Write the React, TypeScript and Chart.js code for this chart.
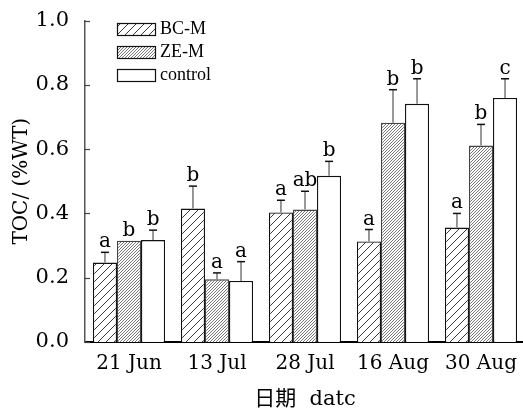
import React, { useEffect, useRef } from "react";
import { Chart, registerables } from "chart.js";
Chart.register(...registerables);

const categories = ["21 Jun", "13 Jul", "28 Jul", "16 Aug", "30 Aug"];
const seriesNames = ["BC-M", "ZE-M", "control"];
const bcmValues = [0.247, 0.415, 0.403, 0.313, 0.356];
const zemValues = [0.315, 0.195, 0.412, 0.682, 0.611];
const ctrlValues = [0.317, 0.19, 0.517, 0.741, 0.759];
const bcmErrTop = [0.279, 0.485, 0.441, 0.35, 0.4];
const zemErrTop = [0.315, 0.215, 0.469, 0.785, 0.677];
const ctrlErrTop = [0.348, 0.25, 0.562, 0.819, 0.819];
const bcmLetters = ["a", "b", "a", "a", "a"];
const zemLetters = ["b", "a", "ab", "b", "b"];
const ctrlLetters = ["b", "a", "b", "b", "c"];
const yTickValues = [0, 0.2, 0.4, 0.6, 0.8, 1.0];
const yTitle = "TOC/ (%WT)";
const xTitle = "日期  datc";

const SERIF = "'Liberation Serif', 'Noto Sans CJK SC', serif";
const WIDE = "'DejaVu Serif', 'Noto Sans CJK SC', serif";

function makeHatch(spacing: number, color: string, lw: number): CanvasPattern | string {
  const c = document.createElement("canvas");
  c.width = spacing;
  c.height = spacing;
  const g = c.getContext("2d");
  if (!g) return "#fff";
  g.fillStyle = "#fff";
  g.fillRect(0, 0, spacing, spacing);
  g.strokeStyle = color;
  g.lineWidth = lw;
  g.beginPath();
  g.moveTo(0, spacing);
  g.lineTo(spacing, 0);
  g.moveTo(-1, 1);
  g.lineTo(1, -1);
  g.moveTo(spacing - 1, spacing + 1);
  g.lineTo(spacing + 1, spacing - 1);
  g.stroke();
  const ctx2 = document.createElement("canvas").getContext("2d")!;
  return ctx2.createPattern(c, "repeat")!;
}

export default function App() {
  const ref = useRef<HTMLCanvasElement>(null);
  useEffect(() => {
    if (!ref.current) return;
    const sparse = makeHatch(8, "#222", 0.9);
    const dense = makeHatch(3, "#555", 0.8);
    const fills = [sparse, dense, "#ffffff"];
    const errTops = [bcmErrTop, zemErrTop, ctrlErrTop];
    const letters = [bcmLetters, zemLetters, ctrlLetters];

    const overlay = {
      id: "overlay",
      afterDatasetsDraw(chart: any) {
        const ctx = chart.ctx;
        const y = chart.scales.y;
        ctx.save();
        for (let d = 0; d < 3; d++) {
          const meta = chart.getDatasetMeta(d);
          meta.data.forEach((bar: any, j: number) => {
            const v = chart.data.datasets[d].data[j];
            const e = errTops[d][j];
            const x = bar.x;
            const top = y.getPixelForValue(v);
            const et = y.getPixelForValue(e);
            if (e > v) {
              ctx.strokeStyle = "#777";
              ctx.lineWidth = 1.5;
              ctx.beginPath();
              ctx.moveTo(x, top);
              ctx.lineTo(x, et);
              ctx.stroke();
              ctx.strokeStyle = "#111";
              ctx.beginPath();
              ctx.moveTo(x - 4, et);
              ctx.lineTo(x + 4, et);
              ctx.stroke();
            }
            ctx.fillStyle = "#000";
            ctx.font = "20px " + WIDE;
            ctx.textAlign = "center";
            ctx.textBaseline = "alphabetic";
            ctx.fillText(letters[d][j], x, Math.min(et, top) - 5);
          });
        }
        ctx.restore();
      },
      afterDraw(chart: any) {
        const ctx = chart.ctx;
        const y = chart.scales.y;
        const left = chart.chartArea.left;
        ctx.save();
        ctx.strokeStyle = "#444";
        ctx.lineWidth = 1.2;
        yTickValues.forEach((t) => {
          const py = Math.round(y.getPixelForValue(t)) + 0.5;
          ctx.beginPath();
          ctx.moveTo(left, py);
          ctx.lineTo(left + 5, py);
          ctx.stroke();
        });
        chart.data.datasets.forEach((ds: any, i: number) => {
          const by = 23 + i * 23;
          ctx.fillStyle = fills[i];
          ctx.fillRect(117, by, 38, 12);
          ctx.strokeStyle = "#111";
          ctx.lineWidth = 1.2;
          ctx.strokeRect(117.5, by + 0.5, 38, 12);
          ctx.fillStyle = "#000";
          ctx.font = "18px " + SERIF;
          ctx.textAlign = "left";
          ctx.textBaseline = "middle";
          ctx.fillText(ds.label, 160, by + 6);
        });
        ctx.restore();
      },
    };

    const chart = new Chart(ref.current, {
      type: "bar",
      data: {
        labels: categories,
        datasets: [
          { label: seriesNames[0], data: bcmValues, backgroundColor: sparse as any, borderColor: "#111", borderWidth: 1.3 },
          { label: seriesNames[1], data: zemValues, backgroundColor: dense as any, borderColor: "#444", borderWidth: 1.3 },
          { label: seriesNames[2], data: ctrlValues, backgroundColor: "#ffffff", borderColor: "#111", borderWidth: 1.3 },
        ],
      },
      options: {
        responsive: false,
        animation: false,
        layout: { padding: { left: 0, right: 5, top: 20, bottom: 0 } },
        datasets: { bar: { categoryPercentage: 0.82, barPercentage: 1 } },
        plugins: { legend: { display: false }, tooltip: { enabled: false } },
        scales: {
          x: {
            grid: { display: false },
            border: { display: true, color: "#000", width: 2 },
            ticks: { color: "#000", font: { family: WIDE, size: 20 }, padding: 2, maxRotation: 0 },
            title: { display: true, text: xTitle, color: "#000", font: { family: WIDE, size: 21 }, padding: { top: 2, bottom: 0 } },
            afterFit: (s: any) => { s.height = 70; },
          },
          y: {
            min: 0,
            max: 1,
            grid: { display: false },
            border: { display: true, color: "#555", width: 1.5 },
            ticks: {
              stepSize: 0.2,
              color: "#000",
              font: { family: WIDE, size: 21 },
              padding: 8,
              callback: (v: any) => Number(v).toFixed(1),
            },
            title: { display: true, text: yTitle, color: "#000", font: { family: WIDE, size: 20 }, padding: { top: 10, bottom: 0 } },
            afterFit: (s: any) => { s.width = 85; },
          },
        },
      },
      plugins: [overlay],
    });
    return () => chart.destroy();
  }, []);
  return (
    <div style={{ position: "absolute", left: 0, top: 0, width: 523, height: 412, overflow: "hidden", background: "#fff" }}>
      <canvas ref={ref} width={530} height={412} style={{ width: 530, height: 412, display: "block" }} />
    </div>
  );
}
